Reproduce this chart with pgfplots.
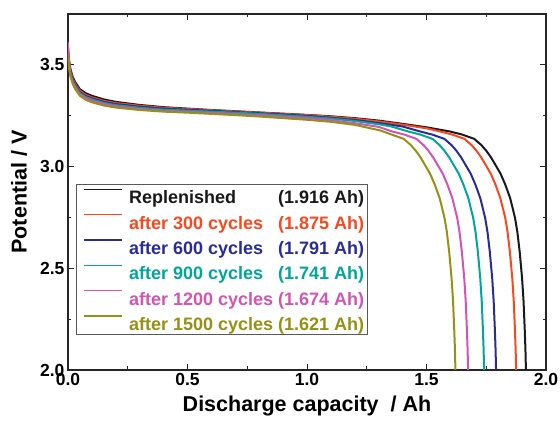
\documentclass[border=0pt]{standalone}
\usepackage{fontspec}
\setmainfont{Liberation Sans}
\usepackage{pgfplots}
\pgfplotsset{compat=1.18}

\definecolor{cBlack}{RGB}{25,25,25}
\definecolor{cRed}{RGB}{250,72,30}
\definecolor{cBlue}{RGB}{40,45,150}
\definecolor{cTeal}{RGB}{0,165,155}
\definecolor{cPink}{RGB}{210,85,180}
\definecolor{cOlive}{RGB}{150,145,20}

\begin{document}
\begin{tikzpicture}
\begin{axis}[
  scale only axis,
  width=478pt, height=356pt,
  xmin=0, xmax=2, ymin=2, ymax=3.75,
  xtick={0,0.5,1,1.5,2}, ytick={2,2.5,3,3.5},
  minor tick num=1,
  tick align=inside,
  major tick length=6pt, minor tick length=3.5pt,
  axis line style={line width=1.1pt, draw=black!85},
  every tick/.style={black!85, line width=1pt},
  tick label style={font=\bfseries\fontsize{17.5}{17.5}\selectfont},
  /pgf/number format/assume math mode=true,
  xticklabel style={/pgf/number format/fixed, /pgf/number format/fixed zerofill, /pgf/number format/precision=1},
  yticklabel style={/pgf/number format/fixed, /pgf/number format/fixed zerofill, /pgf/number format/precision=1},
  xlabel={Discharge capacity\ \ / Ah},
  ylabel={Potential / V},
  label style={font=\bfseries\fontsize{21.5}{21.5}\selectfont},
  xlabel style={at={(axis description cs:0.5,0)}, anchor=base, yshift=-41.7pt},
  ylabel style={at={(axis description cs:-0.0864,0.5)}, anchor=base},
  legend cell align=left,
  legend image code/.code={\path (0pt,0pt); \draw[#1, line width=1.5pt] (3.7pt,7pt) -- (41.7pt,7pt);},
  legend style={
    at={(rel axis cs:0.016,0.098)}, anchor=south west,
    draw=black!65, line width=0.9pt,
    font=\bfseries\fontsize{18}{20}\selectfont,
    inner xsep=3.3pt, inner ysep=3.5pt,
    column sep=6.3pt, row sep=8.8pt,
    nodes={inner xsep=0pt, inner ysep=0pt, text height=15.7pt, text depth=0.8pt},
  },
  every axis plot/.append style={line width=2pt},
]
\coordinate (ll) at (rel axis cs:0,0);
\coordinate (ur) at (rel axis cs:1,1);

% Replenished
\addplot[cBlack] coordinates {
(0,3.58) (0.005,3.52) (0.01,3.48) (0.02,3.44) (0.03,3.415) (0.05,3.38) (0.075,3.36)
(0.1,3.348) (0.15,3.33) (0.2,3.318) (0.3,3.303) (0.4,3.292) (0.5,3.285) (0.6,3.278)
(0.7,3.272) (0.8,3.266) (0.9,3.26) (1.0,3.254) (1.1,3.247) (1.2,3.238) (1.3,3.226)
(1.4,3.21) (1.5,3.193) (1.6,3.172) (1.65,3.157) (1.70,3.136) (1.73,3.105) (1.75,3.078)
(1.77,3.045) (1.79,3.005) (1.81,2.965) (1.83,2.91) (1.85,2.845) (1.87,2.75) (1.88,2.68)
(1.89,2.58) (1.90,2.45) (1.906,2.34) (1.911,2.20) (1.914,2.10) (1.916,2.00)};
\addlegendentry{\textcolor{cBlack}{\makebox[235pt]{Replenished\hfill(1.916 Ah)}}}

% after 300 cycles
\addplot[cRed] coordinates {
(0,3.57) (0.005,3.51) (0.01,3.47) (0.02,3.43) (0.03,3.405) (0.05,3.372) (0.075,3.352)
(0.1,3.34) (0.15,3.323) (0.2,3.312) (0.3,3.299) (0.4,3.289) (0.5,3.283) (0.6,3.277)
(0.7,3.271) (0.8,3.265) (0.9,3.259) (1.0,3.253) (1.1,3.245) (1.2,3.235) (1.3,3.222)
(1.4,3.206) (1.5,3.188) (1.559,3.172) (1.609,3.157) (1.659,3.136) (1.689,3.105) (1.709,3.078)
(1.729,3.045) (1.749,3.005) (1.769,2.965) (1.789,2.91) (1.809,2.845) (1.829,2.75) (1.839,2.68)
(1.849,2.58) (1.859,2.45) (1.865,2.34) (1.870,2.20) (1.873,2.10) (1.875,2.00)};
\addlegendentry{\textcolor{cRed}{\makebox[235pt]{after 300 cycles\hfill(1.875 Ah)}}}

% after 600 cycles
\addplot[cBlue] coordinates {
(0,3.56) (0.005,3.50) (0.01,3.46) (0.02,3.422) (0.03,3.398) (0.05,3.365) (0.075,3.346)
(0.1,3.335) (0.15,3.318) (0.2,3.307) (0.3,3.294) (0.4,3.285) (0.5,3.279) (0.6,3.274)
(0.7,3.268) (0.8,3.262) (0.9,3.256) (1.0,3.249) (1.1,3.24) (1.2,3.229) (1.3,3.214)
(1.4,3.197) (1.475,3.172) (1.525,3.157) (1.575,3.136) (1.605,3.105) (1.625,3.078)
(1.645,3.045) (1.665,3.005) (1.685,2.965) (1.705,2.91) (1.725,2.845) (1.745,2.75) (1.755,2.68)
(1.765,2.58) (1.775,2.45) (1.781,2.34) (1.786,2.20) (1.789,2.10) (1.791,2.00)};
\addlegendentry{\textcolor{cBlue}{\makebox[235pt]{after 600 cycles\hfill(1.791 Ah)}}}

% after 900 cycles
\addplot[cTeal] coordinates {
(0,3.55) (0.005,3.495) (0.01,3.455) (0.02,3.418) (0.03,3.394) (0.05,3.36) (0.075,3.341)
(0.1,3.33) (0.15,3.313) (0.2,3.302) (0.3,3.289) (0.4,3.28) (0.5,3.275) (0.6,3.27)
(0.7,3.265) (0.8,3.259) (0.9,3.252) (1.0,3.245) (1.1,3.236) (1.2,3.224) (1.3,3.208)
(1.35,3.198) (1.425,3.172) (1.475,3.157) (1.525,3.136) (1.555,3.105) (1.575,3.078)
(1.595,3.045) (1.615,3.005) (1.635,2.965) (1.655,2.91) (1.675,2.845) (1.695,2.75) (1.705,2.68)
(1.715,2.58) (1.725,2.45) (1.731,2.34) (1.736,2.20) (1.739,2.10) (1.741,2.00)};
\addlegendentry{\textcolor{cTeal}{\makebox[235pt]{after 900 cycles\hfill(1.741 Ah)}}}

% after 1200 cycles
\addplot[cPink] coordinates {
(0,3.61) (0.003,3.53) (0.01,3.45) (0.02,3.412) (0.03,3.388) (0.05,3.355) (0.075,3.336)
(0.1,3.324) (0.15,3.307) (0.2,3.296) (0.3,3.283) (0.4,3.274) (0.5,3.269) (0.6,3.264)
(0.7,3.258) (0.8,3.252) (0.9,3.245) (1.0,3.238) (1.1,3.228) (1.2,3.213) (1.3,3.195)
(1.358,3.172) (1.408,3.157) (1.458,3.136) (1.488,3.105) (1.508,3.078) (1.528,3.045)
(1.548,3.005) (1.568,2.965) (1.588,2.91) (1.608,2.845) (1.628,2.75) (1.638,2.68)
(1.648,2.58) (1.658,2.45) (1.664,2.34) (1.669,2.20) (1.672,2.10) (1.674,2.00)};
\addlegendentry{\textcolor{cPink}{\makebox[235pt]{after 1200 cycles\hfill(1.674 Ah)}}}

% after 1500 cycles
\addplot[cOlive] coordinates {
(0,3.55) (0.005,3.48) (0.01,3.445) (0.02,3.405) (0.03,3.381) (0.05,3.348) (0.075,3.328)
(0.1,3.316) (0.15,3.3) (0.2,3.29) (0.3,3.278) (0.4,3.27) (0.5,3.265) (0.6,3.259)
(0.7,3.253) (0.8,3.246) (0.9,3.238) (1.0,3.23) (1.1,3.22) (1.2,3.205) (1.305,3.178)
(1.355,3.157) (1.405,3.136) (1.435,3.105) (1.455,3.078) (1.475,3.045) (1.495,3.005)
(1.515,2.965) (1.535,2.91) (1.555,2.845) (1.575,2.75) (1.585,2.68) (1.595,2.58)
(1.605,2.45) (1.611,2.34) (1.616,2.20) (1.619,2.10) (1.621,2.00)};
\addlegendentry{\textcolor{cOlive}{\makebox[235pt]{after 1500 cycles\hfill(1.621 Ah)}}}
\end{axis}
\pgfresetboundingbox
\path ([xshift=-68pt,yshift=-52pt]ll) rectangle ([xshift=14pt,yshift=14pt]ur);
\end{tikzpicture}
\end{document}
